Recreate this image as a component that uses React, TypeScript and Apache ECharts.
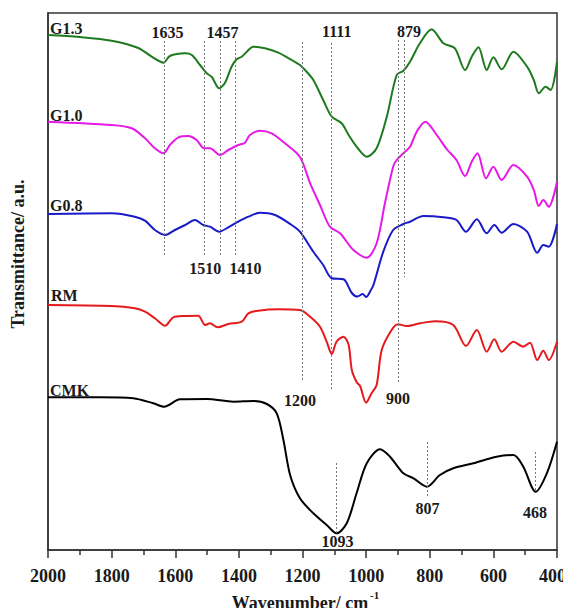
import React, { useEffect, useRef } from "react";
import * as echarts from "echarts";

// Wavenumber (cm-1) vs. offset transmittance (a.u.)
const g13: number[][] = [
  [2000, 515], [1900, 513], [1800, 509.3], [1716, 502], [1674, 493.3], [1637, 487.3], [1617, 494],
  [1569, 496.7], [1548, 495], [1522, 485], [1501, 476.7], [1485, 473], [1462, 461.7], [1444, 467],
  [1423, 483.3], [1407, 490.7], [1391, 493.3], [1375, 498.3], [1355, 503.3], [1318, 501.7],
  [1276, 497.3], [1234, 490], [1208, 485], [1192, 480], [1166, 470], [1135, 450], [1108, 433.3],
  [1077, 426.7], [1055, 415], [1030, 403.3], [998, 393.3], [967, 401.7], [935, 433.3], [904, 475],
  [883, 479.3], [862, 488.3], [831, 506.7], [794, 520.7], [757, 506.7], [721, 501.7], [689, 480],
  [668, 493.3], [647, 502.7], [621, 480], [600, 492.7], [574, 480.7], [537, 498.3], [494, 483.3],
  [473, 470], [457, 456.7], [436, 463.3], [420, 460], [400, 488.3],
];
const g10: number[][] = [
  [2000, 428.3], [1800, 425], [1737, 421.7], [1695, 411.7], [1664, 401.7], [1637, 396.7], [1617, 405],
  [1590, 412.7], [1559, 414], [1533, 410], [1509, 401.7], [1491, 401.7], [1459, 395], [1433, 400],
  [1402, 405], [1381, 407.3], [1365, 415], [1334, 419.3], [1297, 416.7], [1255, 406.7], [1208, 393],
  [1176, 366.7], [1145, 345], [1114, 323.3], [1082, 316.7], [1040, 300], [998, 292.3], [967, 306.7],
  [941, 346.7], [915, 383.3], [904, 390], [883, 396.7], [862, 403.3], [841, 418.3], [814, 428.3],
  [778, 415], [747, 401], [716, 390], [689, 374], [668, 388.3], [650, 396.7], [623, 371.7],
  [600, 383.3], [574, 370], [537, 385], [494, 373.3], [473, 360], [457, 344], [443, 350],
  [426, 343.3], [400, 368.3],
];
const g08: number[][] = [
  [2000, 336], [1800, 336.7], [1727, 333.3], [1695, 329.3], [1664, 320], [1632, 315], [1601, 320],
  [1569, 325], [1538, 330], [1512, 325], [1491, 323.3], [1462, 318.3], [1433, 322.7], [1402, 328.3],
  [1370, 333.3], [1334, 337.3], [1286, 335], [1234, 325], [1208, 318.3], [1166, 298.3], [1135, 285],
  [1108, 271.7], [1071, 270.7], [1045, 257], [1027, 253.5], [1011, 256], [1000, 253], [985, 260],
  [977, 265], [946, 298.3], [915, 320], [883, 326], [862, 328.3], [820, 334], [757, 332.7],
  [716, 330], [686, 318.3], [652, 330.7], [621, 316.7], [597, 325], [574, 317.3], [537, 326],
  [494, 318.3], [462, 297.3], [443, 305], [426, 303.3], [400, 326],
];
const rm: number[][] = [
  [2000, 245], [1800, 244], [1727, 241.7], [1695, 238.3], [1664, 231.7], [1632, 224.3], [1606, 232.7],
  [1569, 234], [1528, 234.3], [1506, 225], [1491, 226.7], [1467, 222.7], [1433, 226], [1391, 228.3],
  [1370, 236.7], [1339, 239.3], [1276, 240.7], [1208, 240], [1176, 233.3], [1145, 223.3],
  [1124, 208.3], [1108, 196], [1093, 208.3], [1071, 213.3], [1055, 205], [1045, 180], [1030, 168],
  [1019, 164], [1000, 147.3], [983, 156.7], [967, 165], [951, 200], [920, 220], [899, 225.7],
  [872, 224], [831, 226.7], [783, 228.7], [726, 225], [686, 204], [652, 220], [621, 198.3],
  [597, 210.7], [574, 198.3], [537, 208.3], [506, 203.3], [485, 207.3], [462, 190], [443, 199.3],
  [426, 190], [400, 208.3],
];
const cmk: number[][] = [
  [2000, 152.7], [1837, 152.7], [1732, 151.7], [1669, 146.7], [1635, 143.3], [1585, 150.7],
  [1501, 151], [1417, 148.3], [1354, 149], [1312, 146], [1281, 136.7], [1260, 110], [1239, 75],
  [1208, 51.7], [1166, 36.7], [1124, 25], [1093, 16.7], [1061, 26.7], [1030, 56.7], [998, 86.7],
  [956, 100.7], [925, 93.3], [883, 76.7], [851, 71.7], [809, 63.3], [768, 75], [726, 81.7],
  [663, 86.7], [590, 93.3], [537, 95], [506, 83.3], [467, 58.3], [432, 76.7], [400, 108.3],
];

const seriesNames = ["G1.3", "G1.0", "G0.8", "RM", "CMK"];
const seriesColors = ["#1e7a1e", "#e619e6", "#1a1ac8", "#e41a1c", "#000000"];
const seriesData = [g13, g10, g08, rm, cmk];

// Dotted guide lines: [wavenumber, yFrom, yTo]
const guides: number[][] = [
  [1635, 509, 293], [1510, 509, 293], [1457, 509, 293], [1410, 509, 293],
  [1200, 508, 168], [1111, 507, 160], [900, 510, 166], [879, 510, 273],
  [1093, 87, 17], [807, 108, 53], [468, 98, 58],
];

const xTicks = [2000, 1800, 1600, 1400, 1200, 1000, 800, 600, 400];

const FONT = "'Liberation Serif', 'Times New Roman', serif";

export default function App() {
  const ref = useRef<HTMLDivElement>(null);
  useEffect(() => {
    if (!ref.current) return;
    const chart = echarts.init(ref.current, undefined, { renderer: "svg" });

    const txt = (text: string, x: number, y: number, size = 16, align = "center") => ({
      type: "text",
      x,
      y,
      style: {
        text,
        fontFamily: FONT,
        fontWeight: "bold",
        fontSize: size,
        fill: "#1a1a1a",
        align,
        verticalAlign: "middle",
      },
    });

    const option: any = {
      animation: false,
      backgroundColor: "#ffffff",
      grid: {
        left: 48,
        right: 14,
        top: 13,
        bottom: 66,
        show: true,
        borderColor: "#333",
        borderWidth: 1.5,
      },
      xAxis: {
        type: "value",
        min: 400,
        max: 2000,
        interval: 200,
        inverse: true,
        axisLine: { show: true, lineStyle: { color: "#333", width: 1.5 } },
        axisTick: { show: true, inside: false, length: 8, lineStyle: { color: "#333", width: 1.5 } },
        minorTick: { show: true, splitNumber: 2, length: 5, lineStyle: { color: "#333", width: 1.5 } },
        splitLine: { show: false },
        axisLabel: {
          margin: 17,
          fontFamily: FONT,
          fontWeight: "bold",
          fontSize: 18,
          color: "#1a1a1a",
          formatter: (v: number) =>
            xTicks.includes(v) ? (v === 400 ? "{edge|400}" : String(v)) : "",
          rich: {
            edge: {
              fontFamily: FONT,
              fontWeight: "bold",
              fontSize: 18,
              color: "#1a1a1a",
              padding: [0, 9, 0, 0],
            },
          },
        },
      },
      yAxis: {
        type: "value",
        min: 0,
        max: 537,
        axisLine: { show: true, lineStyle: { color: "#333", width: 1.5 } },
        axisTick: { show: false },
        axisLabel: { show: false },
        splitLine: { show: false },
      },
      series: [
        {
          type: "line",
          data: [],
          silent: true,
          markLine: {
            silent: true,
            symbol: "none",
            label: { show: false },
            lineStyle: { color: "#777", width: 1, type: [2, 2] },
            data: guides.map((g) => [{ coord: [g[0], g[1]] }, { coord: [g[0], g[2]] }]),
          },
        },
        ...seriesData.map((d, i) => ({
          name: seriesNames[i],
          type: "line",
          data: d,
          showSymbol: false,
          smooth: 0.3,
          lineStyle: { color: seriesColors[i], width: 2 },
          itemStyle: { color: seriesColors[i] },
          z: 3,
        })),
      ],
      graphic: [
        txt("G1.3", 50, 28, 16, "left"),
        txt("G1.0", 50, 115, 16, "left"),
        txt("G0.8", 50, 205, 16, "left"),
        txt("RM", 51, 295.5, 16, "left"),
        txt("CMK", 50, 390.5, 16, "left"),
        txt("1635", 167.5, 32),
        txt("1457", 222.5, 32),
        txt("1111", 336.7, 31),
        txt("879", 409, 31),
        txt("1510", 205.3, 268.5),
        txt("1410", 245.5, 268.5),
        txt("1200", 300, 400),
        txt("900", 398, 398.5),
        txt("1093", 337.5, 541),
        txt("807", 427.5, 508),
        txt("468", 535, 512.5),
        {
          type: "text",
          x: 18,
          y: 254,
          rotation: Math.PI / 2,
          style: {
            text: "Transmittance/ a.u.",
            fontFamily: FONT,
            fontWeight: "bold",
            fontSize: 18,
            fill: "#1a1a1a",
            align: "center",
            verticalAlign: "middle",
          },
        },
        {
          type: "text",
          x: 300,
          y: 594,
          style: {
            text: "Wavenumber/ cm",
            fontFamily: FONT,
            fontWeight: "bold",
            fontSize: 18,
            fill: "#1a1a1a",
            align: "center",
            verticalAlign: "top",
          },
        },
        {
          type: "text",
          x: 370,
          y: 589,
          style: {
            text: "-1",
            fontFamily: FONT,
            fontWeight: "bold",
            fontSize: 11,
            fill: "#1a1a1a",
            align: "left",
            verticalAlign: "top",
          },
        },
      ],
    };
    chart.setOption(option);
    return () => chart.dispose();
  }, []);
  return <div ref={ref} style={{ width: 571, height: 616, margin: -8 }} />;
}
